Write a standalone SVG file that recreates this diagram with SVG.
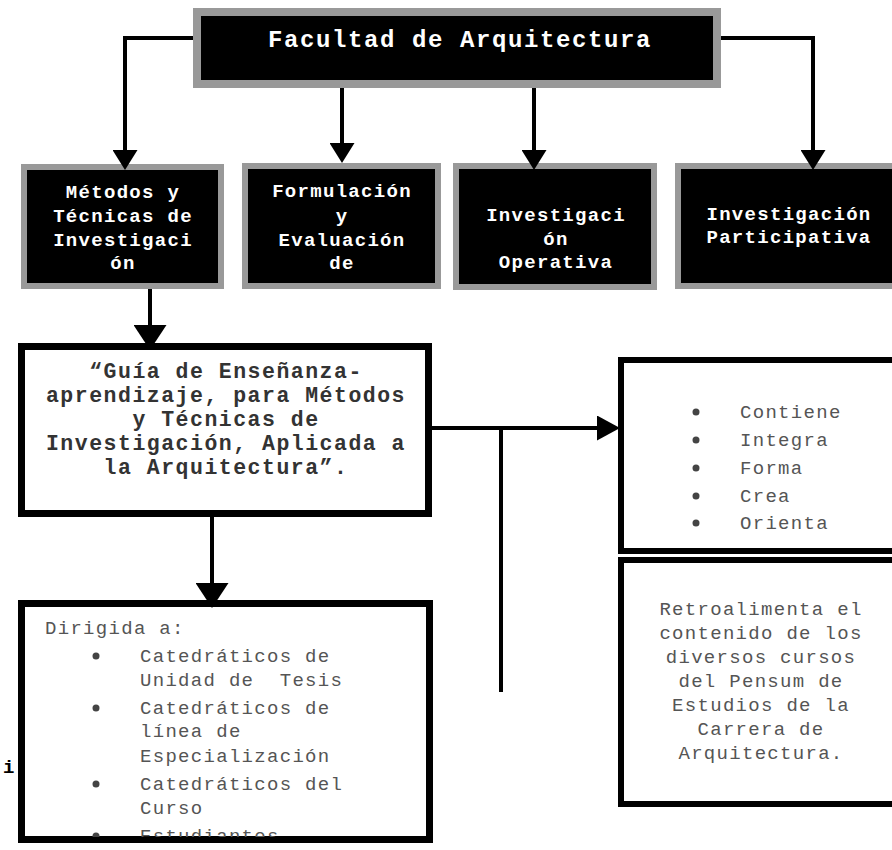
<svg xmlns="http://www.w3.org/2000/svg" width="892" height="850" viewBox="0 0 892 850">
<style>
.dark{fill:#000;stroke:#999;stroke-width:6}
.white{fill:#fff;stroke:#000}
.tw{font-family:"Liberation Mono","Courier New",monospace;font-weight:bold;fill:#fff;font-size:19px;letter-spacing:1.3px;text-anchor:middle}
.tg{font-family:"Liberation Mono","Courier New",monospace;font-weight:bold;fill:#333;font-size:21.5px;letter-spacing:1.5px;text-anchor:middle}
.tl{font-family:"Liberation Mono","Courier New",monospace;fill:#555;font-size:19px;letter-spacing:1.3px;white-space:pre}
.tc{font-family:"Liberation Mono","Courier New",monospace;fill:#555;font-size:19px;letter-spacing:1.3px;text-anchor:middle}
.ln{fill:none;stroke:#000;stroke-width:4}
.bul{fill:#444}
</style>
<defs>
<marker id="sm" markerUnits="userSpaceOnUse" markerWidth="20" markerHeight="25" viewBox="0 0 20 25" refX="10" refY="12.5" orient="auto"><path d="M0,0 L20,12.5 L0,25 z" fill="#000"/></marker>
<marker id="lg" markerUnits="userSpaceOnUse" markerWidth="25" markerHeight="33" viewBox="0 0 25 33" refX="12" refY="16.5" orient="auto"><path d="M0,0 L25,16.5 L0,33 z" fill="#000"/></marker>
<marker id="md" markerUnits="userSpaceOnUse" markerWidth="23" markerHeight="25" viewBox="0 0 23 25" refX="11" refY="12.5" orient="auto"><path d="M0,0 L23,12.5 L0,25 z" fill="#000"/></marker>
<clipPath id="clipDir"><rect x="25" y="607" width="401" height="230"/></clipPath>
</defs>

<g id="facultad">
<rect x="197" y="12" width="520" height="72" fill="#000" stroke="#999" stroke-width="8"/>
<text class="tw" x="460" y="47" style="font-size:24px;letter-spacing:1.6px">Facultad de Arquitectura</text>
</g>

<g id="metodos">
<rect class="dark" x="24" y="167" width="197" height="119"/>
<text class="tw" x="123" y="198">Métodos y</text>
<text class="tw" x="123" y="222">Técnicas de</text>
<text class="tw" x="123" y="246">Investigaci</text>
<text class="tw" x="123" y="269">ón</text>
</g>

<g id="formulacion">
<rect class="dark" x="245" y="166" width="193" height="120"/>
<text class="tw" x="342" y="197">Formulación</text>
<text class="tw" x="342" y="222">y</text>
<text class="tw" x="342" y="246">Evaluación</text>
<text class="tw" x="342" y="269">de</text>
</g>

<g id="operativa">
<rect class="dark" x="456" y="166" width="198" height="121"/>
<text class="tw" x="556" y="221">Investigaci</text>
<text class="tw" x="556" y="245">ón</text>
<text class="tw" x="556" y="268">Operativa</text>
</g>

<g id="participativa">
<rect class="dark" x="678" y="166" width="221" height="120"/>
<text class="tw" x="789" y="220">Investigación</text>
<text class="tw" x="789" y="243">Participativa</text>
</g>

<g id="guia">
<rect class="white" x="21.5" y="346.5" width="407" height="167" stroke-width="7"/>
<text class="tg" x="226" y="378">“Guía de Enseñanza-</text>
<text class="tg" x="226" y="402">aprendizaje, para Métodos</text>
<text class="tg" x="226" y="426">y Técnicas de</text>
<text class="tg" x="226" y="450">Investigación, Aplicada a</text>
<text class="tg" x="226" y="474">la Arquitectura”.</text>
</g>

<g id="acciones">
<rect class="white" x="621" y="360" width="280" height="191" stroke-width="6"/>
<circle class="bul" cx="696" cy="412" r="3.5"/>
<circle class="bul" cx="696" cy="440" r="3.5"/>
<circle class="bul" cx="696" cy="468" r="3.5"/>
<circle class="bul" cx="696" cy="496" r="3.5"/>
<circle class="bul" cx="696" cy="523" r="3.5"/>
<text class="tl" x="740" y="418">Contiene</text>
<text class="tl" x="740" y="446">Integra</text>
<text class="tl" x="740" y="474">Forma</text>
<text class="tl" x="740" y="502">Crea</text>
<text class="tl" x="740" y="529">Orienta</text>
</g>

<g id="retroalimenta">
<rect class="white" x="621" y="560" width="280" height="244" stroke-width="6"/>
<text class="tc" x="761" y="615">Retroalimenta el</text>
<text class="tc" x="761" y="639">contenido de los</text>
<text class="tc" x="761" y="663">diversos cursos</text>
<text class="tc" x="761" y="687">del Pensum de</text>
<text class="tc" x="761" y="711">Estudios de la</text>
<text class="tc" x="761" y="735">Carrera de</text>
<text class="tc" x="761" y="759">Arquitectura.</text>
</g>

<g id="dirigida">
<rect class="white" x="21.5" y="603.5" width="408" height="236" stroke-width="7"/>
<g clip-path="url(#clipDir)">
<text class="tl" x="45" y="634">Dirigida a:</text>
<circle class="bul" cx="96" cy="656" r="3.5"/>
<circle class="bul" cx="96" cy="708" r="3.5"/>
<circle class="bul" cx="96" cy="784" r="3.5"/>
<circle class="bul" cx="96" cy="836" r="3.5"/>
<text class="tl" x="140" y="662">Catedráticos de</text>
<text class="tl" x="140" y="686">Unidad de  Tesis</text>
<text class="tl" x="140" y="714">Catedráticos de</text>
<text class="tl" x="140" y="737">línea de</text>
<text class="tl" x="140" y="762">Especialización</text>
<text class="tl" x="140" y="790">Catedráticos del</text>
<text class="tl" x="140" y="814">Curso</text>
<text class="tl" x="140" y="842">Estudiantes</text>
</g>
</g>

<g id="fragmento">
<text x="3" y="773" style="font-family:'Liberation Mono','Courier New',monospace;font-weight:bold;font-size:19px;fill:#000">i</text>
</g>

<g id="connectors">
<path class="ln" d="M193,38 H125 V160" marker-end="url(#sm)"/>
<path class="ln" d="M342,88 V153" marker-end="url(#sm)"/>
<path class="ln" d="M534,88 V160" marker-end="url(#sm)"/>
<path class="ln" d="M721,38 H813 V160" marker-end="url(#sm)"/>
<path class="ln" d="M150,289 V337" marker-end="url(#lg)"/>
<path class="ln" d="M212,517 V595" marker-end="url(#lg)"/>
<path class="ln" d="M432,428 H608" marker-end="url(#md)"/>
<path class="ln" d="M501,428 V692"/>
</g>
</svg>
